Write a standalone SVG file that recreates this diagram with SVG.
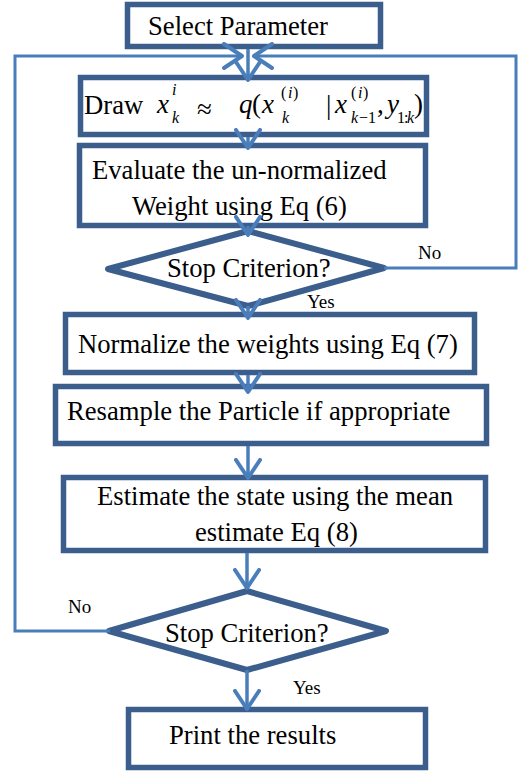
<svg xmlns="http://www.w3.org/2000/svg" width="523" height="771" viewBox="0 0 523 771">
<defs>
<style>
.box{fill:#fff;stroke:#3B5E8C;stroke-width:5.5}
.dia{fill:#fff;stroke:#3B5E8C;stroke-width:6;stroke-linejoin:round}
.t{font-family:"Liberation Serif","Times New Roman",serif;font-size:26.67px;fill:#000}
.s{font-family:"Liberation Serif","Times New Roman",serif;font-size:19px;fill:#000}
.m{font-family:"Liberation Serif","Times New Roman",serif;font-size:27px;fill:#000}
.ms{font-family:"Liberation Serif","Times New Roman",serif;font-size:16px;fill:#000}
.it{font-style:italic}
.c{fill:none;stroke:#4A7EBB;stroke-width:3.5}
.lp{fill:none;stroke:#4A7EBB;stroke-width:3}
</style>
<marker id="arr" viewBox="0 0 24 28" markerWidth="24" markerHeight="28" refX="20" refY="14" markerUnits="userSpaceOnUse" orient="auto">
<path d="M2,2 L20,14 L2,26" fill="none" stroke="#4A7EBB" stroke-width="4" stroke-linecap="round" stroke-linejoin="round"/>
</marker>
</defs>
<rect width="523" height="771" fill="#fff"/>
<g id="select">
<rect class="box" x="127.5" y="4.5" width="253" height="42"/>
<text class="t" x="148" y="35">Select Parameter</text>
</g>
<g id="draw">
<rect class="box" x="80.5" y="77.5" width="346" height="57"/>
<text class="t" x="84" y="114">Draw</text>
<text class="m it" x="157" y="113">x</text>
<text class="ms it" x="172" y="95">i</text>
<text class="ms it" x="172" y="123">k</text>
<text class="m" x="197" y="118" font-size="34">≈</text>
<text class="m it" x="239" y="113">q</text>
<text class="m" x="252" y="113">(</text>
<text class="m it" x="262" y="113">x</text>
<text class="ms" x="281" y="98">(<tspan class="it" x="288">i</tspan><tspan x="293">)</tspan></text>
<text class="ms it" x="282" y="123">k</text>
<text class="m" x="326" y="114">|</text>
<text class="m it" x="335" y="113">x</text>
<text class="ms" x="351" y="98">(<tspan class="it" x="358">i</tspan><tspan x="363">)</tspan></text>
<text class="ms" y="123"><tspan class="it" x="351">k</tspan><tspan x="359">−</tspan><tspan x="368">1</tspan></text>
<text class="m" x="377" y="113">,</text>
<text class="m it" x="387" y="113">y</text>
<text class="ms" y="123" font-size="13"><tspan x="397">1</tspan><tspan x="404">:</tspan><tspan class="it" x="407">k</tspan></text>
<text class="m" x="414" y="113">)</text>
</g>
<g id="evaluate">
<rect class="box" x="79.5" y="145.5" width="346" height="80"/>
<text class="t" x="92" y="179">Evaluate the un-normalized</text>
<text class="t" x="132" y="215">Weight using Eq (6)</text>
</g>
<g id="stop1">
<polygon class="dia" points="108,269 248,231 384,268 248,306"/>
<text class="t" x="167" y="277">Stop Criterion?</text>
</g>
<g id="normalize">
<rect class="box" x="65.5" y="314.5" width="409" height="58"/>
<text class="t" x="78" y="353">Normalize the weights using Eq (7)</text>
</g>
<g id="resample">
<rect class="box" x="55.5" y="386.5" width="431" height="57"/>
<text class="t" x="67" y="420">Resample the Particle if appropriate</text>
</g>
<g id="estimate">
<rect class="box" x="63.5" y="477.5" width="422" height="73"/>
<text class="t" x="97" y="505">Estimate the state using the mean</text>
<text class="t" x="195" y="541">estimate Eq (8)</text>
</g>
<g id="stop2">
<polygon class="dia" points="109,631 247,591 386,631 247,670"/>
<text class="t" x="165" y="642">Stop Criterion?</text>
</g>
<g id="print">
<rect class="box" x="128.5" y="709.5" width="297" height="58"/>
<text class="t" x="169" y="744">Print the results</text>
</g>
<g id="connectors">
<path class="lp" d="M110,631 H15 V56 H242" marker-end="url(#arr)"/>
<path class="lp" d="M384,268 H516 V56 H254" marker-end="url(#arr)"/>
<path class="c" d="M248,49 V80" marker-end="url(#arr)"/>
<path class="c" d="M248,137 V148" marker-end="url(#arr)"/>
<path class="c" d="M248,226 V235" marker-end="url(#arr)"/>
<path class="c" d="M248,306 V318" marker-end="url(#arr)"/>
<path class="c" d="M248,375 V392" marker-end="url(#arr)"/>
<path class="c" d="M248,446 V478" marker-end="url(#arr)"/>
<path class="c" d="M247,553 V588" marker-end="url(#arr)"/>
<path class="c" d="M247,670 V709" marker-end="url(#arr)"/>
<text class="s" x="418" y="259" font-size="20">No</text>
<text class="s" x="307" y="308">Yes</text>
<text class="s" x="68" y="613" font-size="20">No</text>
<text class="s" x="293" y="694">Yes</text>
</g>
</svg>
